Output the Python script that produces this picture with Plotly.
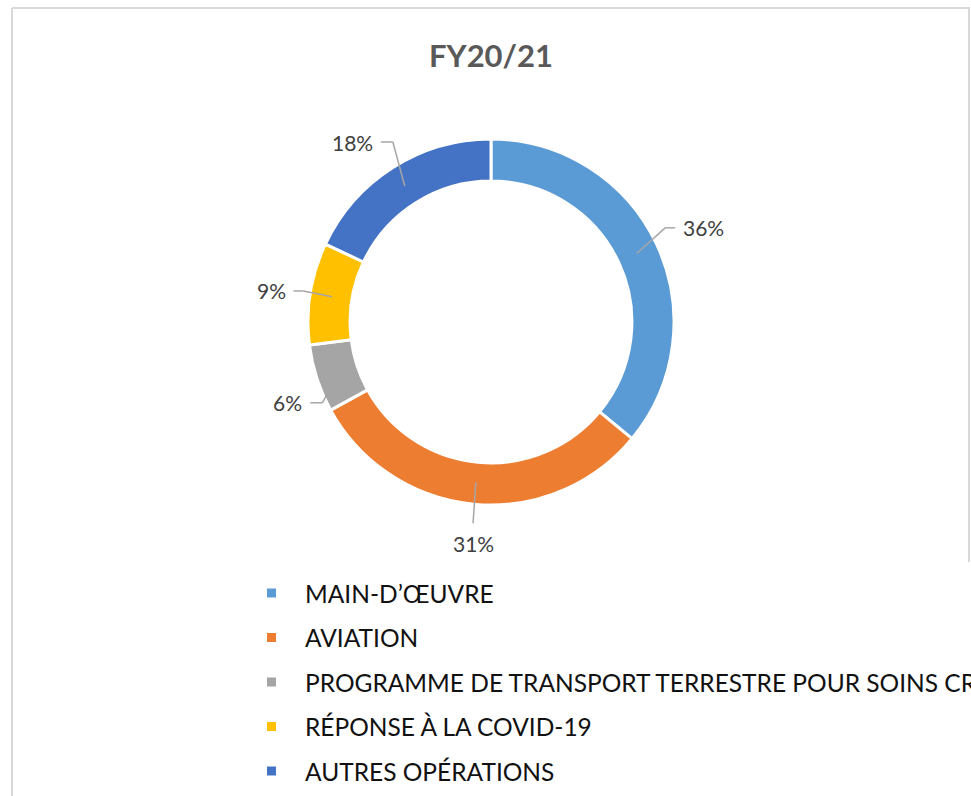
import math
import plotly.graph_objects as go

# ---- data ----
categories = [
    "MAIN-D’ŒUVRE",
    "AVIATION",
    "PROGRAMME DE TRANSPORT TERRESTRE POUR SOINS CRITIQUES",
    "RÉPONSE À LA COVID-19",
    "AUTRES OPÉRATIONS",
]
values = [36, 31, 6, 9, 18]
pct_labels = ["36%", "31%", "6%", "9%", "18%"]
colors = ["#5B9BD5", "#ED7D31", "#A5A5A5", "#FFC000", "#4472C4"]
title_text = "FY20/21"

# ---- layout (pixels) ----
W, H = 971, 796
CX, CY, R = 491, 322, 183
HOLE = 0.77
FONT = "Lato, Carlito, Calibri, sans-serif"

# leader line geometry per slice: start radius, elbow radius, elbow angle offset (deg), horizontal tail length
lead_start_r = [161, 161, 178, 161, 161]
lead_elbow_r = [198, 202, 187, 190, 205]
lead_elbow_da = [-3.2, -0.3, -7.6, 0.4, 3.8]
lead_start_da = [0, 0, -5.5, 0, 0]
lead_tail = [10, 0, 12, 10, 12]
label_side = [1, 0, -1, -1, -1]   # 1 = right of elbow, -1 = left, 0 = below


def px(x):
    return x / W


def py(y):
    return 1 - y / H


fig = go.Figure()
fig.add_trace(go.Pie(
    labels=categories,
    values=values,
    hole=HOLE,
    sort=False,
    direction="clockwise",
    rotation=0,
    marker=dict(colors=colors, line=dict(color="white", width=3)),
    textinfo="none",
    hoverinfo="label+percent",
    showlegend=False,
    domain=dict(x=[px(CX - R), px(CX + R)], y=[py(CY + R), py(CY - R)]),
))

shapes = []
annotations = []

# title
annotations.append(dict(
    x=px(CX), y=py(55), xref="paper", yref="paper", text=f"<b>{title_text}</b>",
    showarrow=False, xanchor="center", yanchor="middle",
    font=dict(family=FONT, size=31, color="#595959"),
))

# data labels with leader lines
total = sum(values)
cum = 0
for i, v in enumerate(values):
    mid = (cum + v / 2) / total * 360
    cum += v
    a0 = math.radians(mid + lead_start_da[i])
    a1 = math.radians(mid + lead_elbow_da[i])
    x0 = CX + lead_start_r[i] * math.sin(a0)
    y0 = CY - lead_start_r[i] * math.cos(a0)
    x1 = CX + lead_elbow_r[i] * math.sin(a1)
    y1 = CY - lead_elbow_r[i] * math.cos(a1)
    side = label_side[i]
    x2 = x1 + side * lead_tail[i]
    line_style = dict(color="#A6A6A6", width=1.5)
    shapes.append(dict(type="line", xref="paper", yref="paper",
                       x0=px(x0), y0=py(y0), x1=px(x1), y1=py(y1), line=line_style))
    if side != 0:
        shapes.append(dict(type="line", xref="paper", yref="paper",
                           x0=px(x1), y0=py(y1), x1=px(x2), y1=py(y1), line=line_style))
        annotations.append(dict(
            x=px(x2 + side * 6), y=py(y1), xref="paper", yref="paper",
            text=pct_labels[i], showarrow=False,
            xanchor="left" if side > 0 else "right", yanchor="middle",
            font=dict(family=FONT, size=21, color="#404040"),
        ))
    else:
        annotations.append(dict(
            x=px(x1), y=py(y1 + 20), xref="paper", yref="paper",
            text=pct_labels[i], showarrow=False,
            xanchor="center", yanchor="middle",
            font=dict(family=FONT, size=21, color="#404040"),
        ))

# legend (custom)
LEG_Y0, LEG_DY = 593, 44.5
for i, cat in enumerate(categories):
    yc = LEG_Y0 + i * LEG_DY
    shapes.append(dict(type="rect", xref="paper", yref="paper",
                       x0=px(267), x1=px(276), y0=py(yc - 4.5), y1=py(yc + 4.5),
                       fillcolor=colors[i], line=dict(width=0)))
    annotations.append(dict(
        x=px(303), y=py(yc), xref="paper", yref="paper", text=cat,
        showarrow=False, xanchor="left", yanchor="middle",
        font=dict(family=FONT, size=24.5, color="#111111"),
    ))

# chart frame
frame = dict(color="#D9D9D9", width=2)
shapes.append(dict(type="line", xref="paper", yref="paper", x0=px(12), x1=px(970), y0=py(8), y1=py(8), line=frame))
shapes.append(dict(type="line", xref="paper", yref="paper", x0=px(12), x1=px(12), y0=py(8), y1=py(H + 5), line=frame))
shapes.append(dict(type="line", xref="paper", yref="paper", x0=px(969), x1=px(969), y0=py(8), y1=py(562), line=frame))

fig.update_layout(
    width=W, height=H,
    margin=dict(l=0, r=0, t=0, b=0),
    paper_bgcolor="white", plot_bgcolor="white",
    shapes=shapes, annotations=annotations,
    showlegend=False,
)

fig.write_html(
    "out.html",
    config={"displayModeBar": False},
    post_script="document.body.style.margin='0';document.body.style.overflow='hidden';",
)
